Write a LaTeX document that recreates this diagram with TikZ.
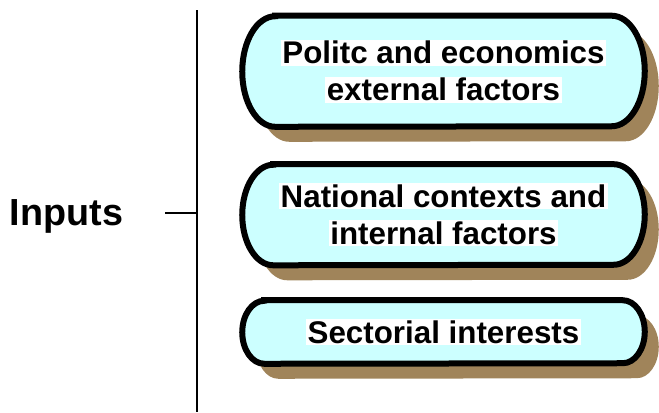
\documentclass[tikz,border=0pt]{standalone}
\usepackage{fontspec}
\setmainfont{Liberation Sans}
\pgfdeclarelayer{back}
\pgfsetlayers{back,main}
\definecolor{pillfill}{RGB}{204,255,255}
\definecolor{pillshadow}{RGB}{160,132,90}
\newcommand{\whitebg}[1]{{\setlength{\fboxsep}{1pt}\colorbox{white}{#1}}}

\begin{document}
\begin{tikzpicture}[x=0.75pt,y=0.75pt,factor/.style={inner sep=0pt,minimum width=301.5pt,align=center,font=\bfseries\fontsize{23.5}{27.75}\selectfont},pillline/.style={draw=black,line width=4.5pt,fill=pillfill},pillshade/.style={fill=pillshadow},axis/.style={line width=2pt}]
\useasboundingbox (0,0) rectangle (659,412);
\node[anchor=base,font=\bfseries\fontsize{28.3}{34}\selectfont] (inputs) at (66.5,187) {Inputs};
\node[factor,minimum height=82.9pt] (pol) at (443.5,340.75) {\whitebg{Politc and economics}\\\whitebg{external factors}};
\node[factor,minimum height=75.4pt] (nat) at (443.5,197.25) {\whitebg{National contexts and}\\\whitebg{internal factors}};
\node[factor,minimum height=47.25pt] (sec) at (443.5,80) {\whitebg{Sectorial interests}};
\coordinate (vtop) at (197,402);
\coordinate (vbot) at (197,0);
\coordinate (tick) at (165,199);
\draw[axis] (vtop) -- (vbot);
\draw[axis] (tick) -- (tick -| vtop);
\begin{pgfonlayer}{back}
\foreach \n/\rx/\ry in {pol/24.75pt/41.45pt,nat/23.25pt/37.7pt,sec/16.5pt/23.625pt}{
  \fill[pillshade] ([xshift=\rx+10.5pt,yshift=-11.25pt]\n.north west) -- ([xshift=-\rx+10.5pt,yshift=-11.25pt]\n.north east) arc[start angle=90,end angle=-90,x radius=\rx,y radius=\ry] -- ([xshift=\rx+10.5pt,yshift=-11.25pt]\n.south west) arc[start angle=270,end angle=90,x radius=\rx,y radius=\ry] -- cycle;
  \path[pillline] ([xshift=\rx]\n.north west) -- ([xshift=-\rx]\n.north east) arc[start angle=90,end angle=-90,x radius=\rx,y radius=\ry] -- ([xshift=\rx]\n.south west) arc[start angle=270,end angle=90,x radius=\rx,y radius=\ry] -- cycle;
}
\end{pgfonlayer}
\end{tikzpicture}
\end{document}
